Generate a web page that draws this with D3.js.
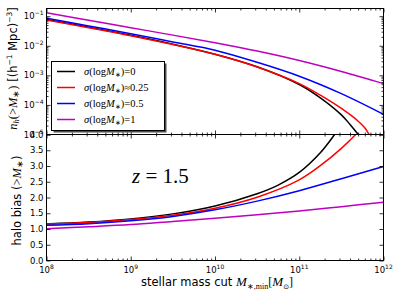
<!DOCTYPE html>
<html><head><meta charset="utf-8">
<script src="https://cdn.jsdelivr.net/npm/d3@7/dist/d3.min.js"></script>
<style>body{margin:0;background:#fff}svg{display:block}</style>
</head><body>
<svg id="c" width="399" height="299"></svg>
<script>
// ---------------- data (log10 values) ----------------
const xTickExp = [8, 9, 10, 11, 12];
const nTickExp = [-5, -4, -3, -2, -1];
const bTicks = [0, 0.5, 1, 1.5, 2, 2.5, 3, 3.5, 4];
const legendLabels = ["0", "0.25", "0.5", "1"];
const legendRel = ["=", "≈", "=", "="];
const colors = ["#000000", "#ff0000", "#0000ff", "#bf00bf"];

// top panel: number density n_h(>M*) ; x = log10 M*, y = log10 n
const nBlackM = [8, 8.5, 9, 9.5, 10, 10.5, 11, 11.25, 11.5, 11.6, 11.7, 11.75];
const nBlackV = [-1.11, -1.37, -1.645, -1.945, -2.285, -2.71, -3.31, -3.76, -4.335, -4.65, -5.0, -5.2];
const nRedM = [8, 8.5, 9, 9.5, 10, 10.5, 11, 11.25, 11.5, 11.7, 11.78, 11.83, 11.87];
const nRedV = [-1.13, -1.39, -1.66, -1.96, -2.29, -2.72, -3.28, -3.67, -4.12, -4.55, -4.78, -5.0, -5.17];
const nBlueM = [8, 8.5, 9, 9.5, 10, 10.5, 11, 11.5, 12];
const nBlueV = [-1.07, -1.33, -1.59, -1.87, -2.15, -2.56, -3.03, -3.62, -4.32];
const nPurpleM = [8, 8.5, 9, 9.5, 10, 10.5, 11, 11.5, 12];
const nPurpleV = [-0.885, -1.14, -1.39, -1.64, -1.90, -2.18, -2.50, -2.87, -3.28];

// bottom panel: halo bias b(>M*) ; x = log10 M*
const bBlackM = [8, 8.5, 9, 9.5, 10, 10.5, 10.75, 11, 11.25, 11.42, 11.5];
const bBlackV = [1.16, 1.22, 1.32, 1.48, 1.73, 2.12, 2.395, 2.795, 3.42, 4.0, 4.3];
const bRedM = [8, 8.5, 9, 9.5, 10, 10.5, 11, 11.25, 11.5, 11.67, 11.75];
const bRedV = [1.16, 1.21, 1.30, 1.44, 1.66, 2.01, 2.56, 3.01, 3.56, 4.0, 4.24];
const bBlueM = [8, 8.5, 9, 9.5, 10, 10.5, 11, 11.5, 12];
const bBlueV = [1.12, 1.17, 1.26, 1.40, 1.61, 1.885, 2.215, 2.595, 2.985];
const bPurpleM = [8, 8.5, 9, 9.5, 10, 10.5, 11, 11.5, 12];
const bPurpleV = [1.01, 1.07, 1.14, 1.24, 1.34, 1.45, 1.57, 1.71, 1.85];

// ---------------- layout ----------------
const L = 46.5, R = 383.5, T = 8.5, MID = 134.5, B = 260.5;
const SANS = "DejaVu Sans", SERIF = "Liberation Serif";
const svg = d3.select("#c");
const p10 = e => Math.pow(10, e);

const x = d3.scaleLog().domain([1e8, 1e12]).range([L, R]);
const yN = d3.scaleLog().domain([1e-5, p10(-0.74)]).range([MID, T]);
const yB = d3.scaleLinear().domain([0, 4]).range([B, MID]);

const defs = svg.append("defs");
defs.append("clipPath").attr("id", "clipTop").append("rect")
  .attr("x", L).attr("y", T).attr("width", R - L).attr("height", MID - T);
defs.append("clipPath").attr("id", "clipBot").append("rect")
  .attr("x", L).attr("y", MID).attr("width", R - L).attr("height", B - MID);

// ---------------- lines ----------------
const lineN = d3.line().x(d => x(p10(d[0]))).y(d => yN(p10(d[1]))).curve(d3.curveCatmullRom.alpha(0.5));
const lineB = d3.line().x(d => x(p10(d[0]))).y(d => yB(d[1])).curve(d3.curveCatmullRom.alpha(0.5));
const zip = (a, b) => a.map((v, i) => [v, b[i]]);

const nSeries = [zip(nBlackM, nBlackV), zip(nRedM, nRedV), zip(nBlueM, nBlueV), zip(nPurpleM, nPurpleV)];
const bSeries = [zip(bBlackM, bBlackV), zip(bRedM, bRedV), zip(bBlueM, bBlueV), zip(bPurpleM, bPurpleV)];

const gTop = svg.append("g").attr("clip-path", "url(#clipTop)");
nSeries.forEach((s, i) => gTop.append("path").attr("d", lineN(s))
  .attr("fill", "none").attr("stroke", colors[i]).attr("stroke-width", 1.5));
const gBot = svg.append("g").attr("clip-path", "url(#clipBot)");
bSeries.forEach((s, i) => gBot.append("path").attr("d", lineB(s))
  .attr("fill", "none").attr("stroke", colors[i]).attr("stroke-width", 1.5));

// ---------------- axes / ticks ----------------
const xMajor = xTickExp.map(p10);
const xMinor = [];
for (let d = 8; d < 12; d++) for (let k = 2; k <= 9; k++) xMinor.push(k * p10(d));
const nMajor = nTickExp.map(p10);
const nMinor = [];
for (let d = -5; d <= -1; d++) for (let k = 2; k <= 9; k++) {
  const v = k * p10(d); if (v < yN.domain()[1]) nMinor.push(v);
}

function ticks(axisFn, scale, vals, size, tx, ty) {
  const g = svg.append("g").attr("transform", `translate(${tx},${ty})`)
    .call(axisFn(scale).tickValues(vals).tickSize(-size).tickFormat(""));
  g.select(".domain").remove();
  g.selectAll("line").attr("stroke", "#000").attr("stroke-width", 0.8);
}
[[d3.axisTop, T], [d3.axisBottom, MID], [d3.axisTop, MID], [d3.axisBottom, B]].forEach(([f, yy]) => {
  ticks(f, x, xMajor, 4, 0, yy);
  ticks(f, x, xMinor, 2, 0, yy);
});
ticks(d3.axisLeft, yN, nMajor, 4, L, 0);
ticks(d3.axisLeft, yN, nMinor, 2, L, 0);
ticks(d3.axisRight, yN, nMajor, 4, R, 0);
ticks(d3.axisRight, yN, nMinor, 2, R, 0);
ticks(d3.axisLeft, yB, bTicks, 4, L, 0);
ticks(d3.axisRight, yB, bTicks, 4, R, 0);

[[T, MID], [MID, B]].forEach(([a, b]) => svg.append("rect")
  .attr("x", L).attr("y", a).attr("width", R - L).attr("height", b - a)
  .attr("fill", "none").attr("stroke", "#000").attr("stroke-width", 1));

// ---------------- rich text helper ----------------
function rich(sel, parts) {
  let cur = 0;
  parts.forEach(p => {
    const sh = p.shift || 0;
    const ts = sel.append("tspan").text(p.t)
      .attr("font-family", p.font || SANS)
      .attr("font-style", p.italic ? "italic" : "normal");
    if (p.size) ts.attr("font-size", p.size);
    if (sh !== cur) { ts.attr("dy", sh - cur); cur = sh; }
  });
  return sel;
}

// tick labels
xTickExp.forEach(e => {
  const t = svg.append("text").attr("x", x(p10(e))).attr("y", 273)
    .attr("text-anchor", "middle").attr("font-size", 8.5).attr("font-family", SANS);
  rich(t, [{t: "10"}, {t: String(e), size: 6, shift: -3.8}]);
});
nTickExp.forEach(e => {
  const t = svg.append("text").attr("x", L - 3).attr("y", yN(p10(e)) + 3)
    .attr("text-anchor", "end").attr("font-size", 8.5).attr("font-family", SANS);
  rich(t, [{t: "10"}, {t: "−" + Math.abs(e), size: 6, shift: -3.8}]);
});
bTicks.forEach(v => {
  svg.append("text").attr("x", L - 3).attr("y", yB(v) + 3)
    .attr("text-anchor", "end").attr("font-size", 8.5).attr("font-family", SANS)
    .text(v.toFixed(1));
});

// axis labels
rich(svg.append("text").attr("x", 217).attr("y", 286)
  .attr("text-anchor", "middle").attr("font-size", 11.5), [
  {t: "stellar mass cut "},
  {t: "M", font: SERIF, italic: true, size: 13},
  {t: "∗,min", font: SERIF, size: 8, shift: 2.5},
  {t: "[", font: SERIF, size: 12, shift: 0},
  {t: "M", font: SERIF, italic: true, size: 13},
  {t: "⊙", font: SANS, size: 7, shift: 2.5},
  {t: "]", font: SERIF, size: 12, shift: 0}
]);

rich(svg.append("text").attr("transform", `translate(16.5,${(T + MID) / 2 - 3}) rotate(-90)`)
  .attr("text-anchor", "middle").attr("font-size", 11.5), [
  {t: "n", font: SERIF, italic: true, size: 12.5},
  {t: "h", font: SERIF, italic: true, size: 8.5, shift: 2.5},
  {t: "(>", font: SERIF, size: 12.5, shift: 0},
  {t: "M", font: SERIF, italic: true, size: 12.5},
  {t: "∗", font: SERIF, size: 8.5, shift: 2.5},
  {t: ")", font: SERIF, size: 12.5, shift: 0},
  {t: " [(h"},
  {t: "−1", size: 7.5, shift: -4.5},
  {t: " Mpc)", shift: 0},
  {t: "−3", size: 7.5, shift: -4.5},
  {t: "]", shift: 0}
]);

rich(svg.append("text").attr("transform", `translate(20.5,${(MID + B) / 2 + 3}) rotate(-90)`)
  .attr("text-anchor", "middle").attr("font-size", 11.5), [
  {t: "halo bias ("},
  {t: ">", font: SERIF, size: 12.5},
  {t: "M", font: SERIF, italic: true, size: 12.5},
  {t: "∗", font: SERIF, size: 8.5, shift: 2.5},
  {t: ")", shift: 0}
]);

// z label
rich(svg.append("text").attr("x", 132).attr("y", 183).attr("font-size", 21), [
  {t: "z", font: SERIF, italic: true},
  {t: " = 1.5", font: SERIF}
]);

// ---------------- legend ----------------
const lg = svg.append("g");
lg.append("rect").attr("x", 53.5).attr("y", 63.5).attr("width", 113).attr("height", 69)
  .attr("fill", "#4d4d4d");
lg.append("rect").attr("x", 51.5).attr("y", 61.5).attr("width", 113).attr("height", 69)
  .attr("fill", "#fff").attr("stroke", "#000").attr("stroke-width", 1);
legendLabels.forEach((lab, i) => {
  const yy = 71.5 + i * 16;
  lg.append("line").attr("x1", 57).attr("x2", 75).attr("y1", yy).attr("y2", yy)
    .attr("stroke", colors[i]).attr("stroke-width", 1.5);
  rich(lg.append("text").attr("x", 84).attr("y", yy + 3.5).attr("font-size", 10.5)
    .attr("font-family", SERIF), [
    {t: "σ", font: SERIF, italic: true},
    {t: "(log", font: SERIF},
    {t: "M", font: SERIF, italic: true},
    {t: "∗", font: SERIF, size: 7, shift: 2},
    {t: ")" + legendRel[i] + lab, font: SERIF, shift: 0}
  ]);
});
</script>
</body></html>
